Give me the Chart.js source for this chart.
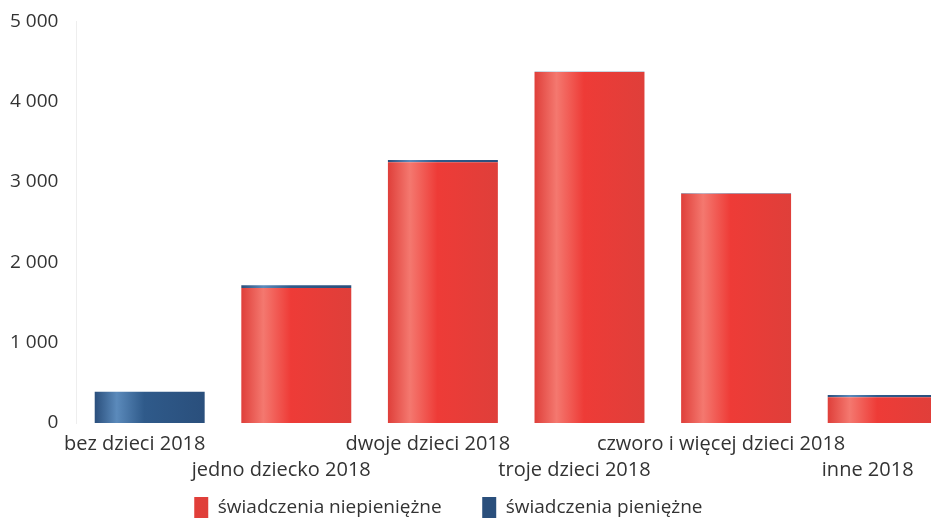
<!DOCTYPE html>
<html>
<head>
<meta charset="utf-8">
<script src="https://cdn.jsdelivr.net/npm/chart.js@4"></script>
<style>
  html, body { margin: 0; padding: 0; background: #fff; overflow: hidden; }
  #wrap { width: 956px; height: 528px; }
</style>
</head>
<body>
<div id="wrap"><canvas id="chart"></canvas></div>
<script>
const categories = ['bez dzieci 2018', 'jedno dziecko 2018', 'dwoje dzieci 2018',
    'troje dzieci 2018', 'czworo i więcej dzieci 2018', 'inne 2018'];
const niepieniezne = [0, 1680, 3245, 4370, 2855, 320];
const pieniezne = [390, 35, 30, 4, 4, 30];
const yTicks = [0, 1000, 2000, 3000, 4000, 5000];

// labels alternate between two rows
const labels = categories.map((c, i) => i % 2 ? ['', c] : [c]);

function fmt(v) {
    return String(v).replace(/\B(?=(\d{3})+(?!\d))/g, ' ');
}

// cylinder-like shading across each bar
function shade(base, light, dark) {
    return ctx => {
        const xs = ctx.chart.scales.x;
        if (!xs || ctx.dataIndex === undefined) return base;
        const c = xs.getPixelForValue(ctx.dataIndex);
        const half = xs.width / categories.length * 0.375;
        if (!isFinite(c) || !isFinite(half) || half <= 0) return base;
        const g = ctx.chart.ctx.createLinearGradient(c - half, 0, c + half, 0);
        g.addColorStop(0, dark);
        g.addColorStop(0.2, light);
        g.addColorStop(0.45, base);
        g.addColorStop(1, dark);
        return g;
    };
}

// extra room after legend items (gap between them, and shift to the left)
const legendGap = ['       ', '            '];

new Chart(document.getElementById('chart'), {
    type: 'bar',
    data: {
        labels: labels,
        datasets: [
            {label: 'świadczenia niepieniężne', data: niepieniezne,
             backgroundColor: shade('#ee3b37', '#f4786f', '#df3f3a')},
            {label: 'świadczenia pieniężne', data: pieniezne,
             backgroundColor: shade('#2f5a8a', '#5b8abb', '#2a4f7c')}
        ]
    },
    options: {
        responsive: true,
        maintainAspectRatio: false,
        animation: false,
        layout: { padding: { top: 2, left: 0, right: 0, bottom: 0 } },
        datasets: { bar: { barPercentage: 0.75, categoryPercentage: 1 } },
        scales: {
            x: {
                stacked: true,
                grid: { display: false },
                border: { display: false },
                afterFit: s => { s.height += 8; },
                ticks: {
                    autoSkip: false, maxRotation: 0, padding: 0, labelOffset: -15,
                    color: '#333', font: { family: 'Open Sans', size: 20, lineHeight: 1.3 }
                }
            },
            y: {
                stacked: true,
                min: 0, max: 5000,
                afterBuildTicks: s => { s.ticks = yTicks.map(v => ({value: v})); },
                grid: { display: false },
                border: { display: true, color: '#eee' },
                ticks: {
                    padding: 10,
                    color: '#333', font: { family: 'Open Sans', size: 19 },
                    callback: v => fmt(v)
                }
            }
        },
        plugins: {
            legend: {
                position: 'bottom',
                labels: {
                    boxWidth: 14, boxHeight: 21, padding: 6,
                    color: '#333', font: { family: 'Open Sans', size: 19 },
                    generateLabels: chart => {
                        const items = Chart.defaults.plugins.legend.labels.generateLabels(chart);
                        items.forEach((it, i) => { it.text += legendGap[i]; });
                        return items;
                    }
                }
            },
            tooltip: { enabled: false }
        }
    }
});
</script>
</body>
</html>
